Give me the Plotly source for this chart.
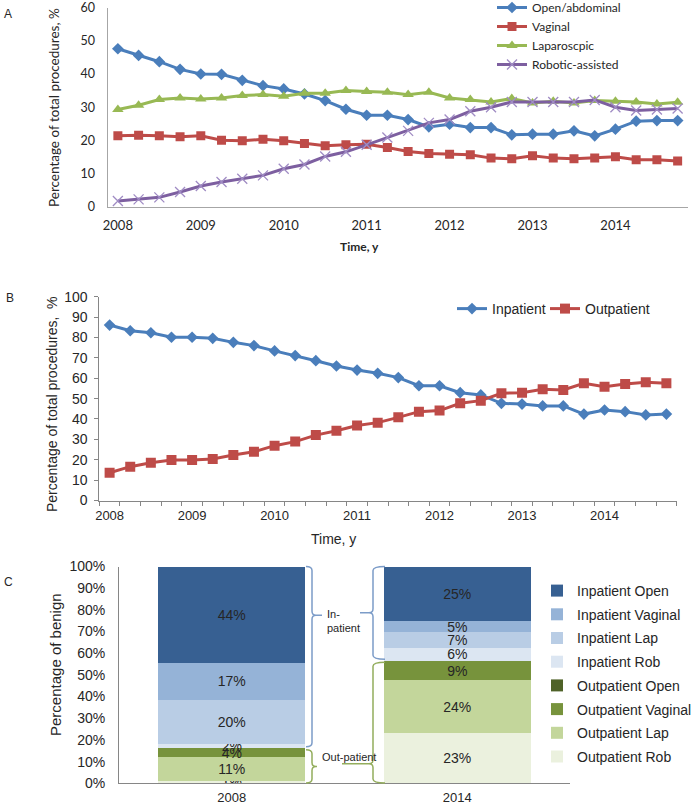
import plotly.graph_objects as go

W, H = 692, 806

# ---- shared x categories (quarters 2008 Q1 .. 2014 Q4) ----
year_labels = ["2008", "2009", "2010", "2011", "2012", "2013", "2014"]
n_quarters = 28

# ---- panel A: approach, % of total procedures ----
open_abd = [47.6, 45.6, 43.7, 41.4, 40.0, 39.9, 38.1, 36.5, 35.5, 34.0, 32.0, 29.4, 27.6, 27.6,
            26.3, 24.1, 24.9, 23.9, 23.9, 21.7, 21.9, 21.9, 22.9, 21.4, 23.4, 25.8, 26.0, 26.0]
vaginal = [21.4, 21.6, 21.4, 21.1, 21.4, 20.1, 19.9, 20.4, 19.9, 19.1, 18.4, 18.7, 18.9, 17.9,
           16.7, 16.1, 15.9, 15.7, 14.7, 14.5, 15.4, 14.7, 14.5, 14.7, 15.1, 14.2, 14.2, 13.8]
laparoscopic = [29.3, 30.6, 32.3, 32.8, 32.5, 32.8, 33.5, 33.8, 33.3, 34.2, 34.2, 35.0, 34.7, 34.5,
                33.8, 34.5, 32.8, 32.3, 31.6, 32.6, 31.3, 31.8, 31.3, 32.0, 31.8, 31.6, 31.0, 31.5]
robotic = [1.8, 2.3, 2.9, 4.5, 6.3, 7.5, 8.5, 9.5, 11.5, 12.8, 15.2, 16.6, 18.7, 20.9,
           22.9, 25.3, 26.3, 28.8, 30.0, 31.6, 31.6, 31.6, 31.6, 32.2, 30.0, 29.0, 29.3, 29.6]

# ---- panel B: setting, % of total procedures ----
inpatient = [86.1, 83.3, 82.3, 80.1, 80.1, 79.6, 77.6, 76.0, 73.4, 71.1, 68.6, 66.0, 64.0, 62.4,
             60.3, 56.3, 56.3, 52.9, 51.8, 47.7, 47.3, 46.4, 46.4, 42.4, 44.4, 43.6, 42.0, 42.4]
outpatient = [13.6, 16.6, 18.5, 19.9, 19.9, 20.4, 22.3, 23.9, 26.9, 28.9, 32.1, 34.2, 36.8, 38.2,
              40.8, 43.6, 44.1, 47.7, 49.0, 52.6, 52.9, 54.6, 54.2, 57.5, 55.8, 57.2, 58.0, 57.5]

# ---- panel C: share of benign, 2008 vs 2014 ----
bar_years = ["2008", "2014"]
inpatient_open = [44, 25]
inpatient_vaginal = [17, 5]
inpatient_lap = [20, 7]
inpatient_rob = [2, 6]
outpatient_open = [0, 0]
outpatient_vaginal = [4, 9]
outpatient_lap = [11, 24]
outpatient_rob = [1, 23]


def px_x(px):
    return px / W


def px_y(py):
    return 1 - py / H


fig = go.Figure()

# ---------- A ----------
A_FONT = "Lato, Open Sans, sans-serif"
line_specs = [
    ("Open/abdominal", open_abd, "#4A7EBB", dict(symbol="diamond", size=9)),
    ("Vaginal", vaginal, "#BE4B48", dict(symbol="square", size=9)),
    ("Laparoscpic", laparoscopic, "#98B954", dict(symbol="triangle-up", size=10)),
    ("Robotic-assisted", robotic, "#7D5FA0", dict(symbol="x-thin", size=10,
                                                  line=dict(width=1.3, color="#A08CC4"))),
]
for name, vals, color, mk in line_specs:
    mk = dict(mk)
    mk.setdefault("color", color)
    fig.add_trace(go.Scatter(
        x=list(range(len(vals))), y=vals, name=name, mode="lines+markers",
        line=dict(color=color, width=3), marker=mk,
        xaxis="x", yaxis="y", legend="legend"))

# ---------- B ----------
fig.add_trace(go.Scatter(
    x=list(range(len(inpatient))), y=inpatient, name="Inpatient", mode="lines+markers",
    line=dict(color="#4A7EBB", width=3), marker=dict(symbol="diamond", size=9, color="#4A7EBB"),
    xaxis="x2", yaxis="y2", legend="legend2"))
fig.add_trace(go.Scatter(
    x=list(range(len(outpatient))), y=outpatient, name="Outpatient", mode="lines+markers",
    line=dict(color="#BE4B48", width=3), marker=dict(symbol="square", size=10, color="#BE4B48"),
    xaxis="x2", yaxis="y2", legend="legend4"))

# ---------- C ----------
stack = [  # bottom to top
    ("Outpatient Rob", outpatient_rob, "#EBF1DE"),
    ("Outpatient Lap", outpatient_lap, "#C3D69B"),
    ("Outpatient Vaginal", outpatient_vaginal, "#77933C"),
    ("Outpatient Open", outpatient_open, "#4F6228"),
    ("Inpatient Rob", inpatient_rob, "#DCE6F2"),
    ("Inpatient Lap", inpatient_lap, "#B9CDE5"),
    ("Inpatient Vaginal", inpatient_vaginal, "#95B3D7"),
    ("Inpatient Open", inpatient_open, "#376092"),
]
for i, (name, vals, color) in enumerate(stack):
    fig.add_trace(go.Bar(
        x=[0, 1], y=vals, name=name, marker=dict(color=color, line=dict(width=0)),
        text=[f"{v}%" if v else "" for v in vals], textposition="inside",
        insidetextanchor="middle", textfont=dict(family="Liberation Sans, Arial", size=14, color="#262626"),
        width=0.65, xaxis="x3", yaxis="y3", legend="legend3", legendgroup=name,
        legendrank=len(stack) - i))

axis_common = dict(showgrid=False, zeroline=False, showline=True, automargin=False)

fig.update_layout(
    width=W, height=H, margin=dict(l=0, r=0, t=0, b=0, autoexpand=False),
    paper_bgcolor="white", plot_bgcolor="white",
    font=dict(family="Liberation Sans, Arial", size=13, color="#262626"),
    barmode="stack", barnorm="percent",
    uniformtext=dict(mode="show", minsize=14),
    xaxis=dict(**axis_common, domain=[px_x(107.5), px_x(688)], range=[-0.5, n_quarters - 0.5],
               linecolor="#A6A6A6", ticks="", tickvals=list(range(0, n_quarters, 4)),
               ticktext=year_labels, ticklabelstandoff=6,
               tickfont=dict(family=A_FONT, size=13, color="#262626"), anchor="y"),
    yaxis=dict(**axis_common, domain=[px_y(207), px_y(7.5)], range=[0, 60], dtick=10,
               linecolor="#A6A6A6", ticks="", ticklabelstandoff=9, ticklabeloverflow="allow",
               tickfont=dict(family=A_FONT, size=12.5, color="#262626"), anchor="x"),
    xaxis2=dict(**axis_common, domain=[px_x(99.3), px_x(676.7)], range=[-0.5, n_quarters - 0.5],
                linecolor="#868686", ticks="", tickvals=list(range(0, n_quarters, 4)),
                ticktext=year_labels, ticklabelstandoff=3, tickfont=dict(size=13),
                minor=dict(tickvals=[i - 0.5 for i in range(n_quarters + 1)], ticks="outside",
                           ticklen=4, tickcolor="#868686"),
                anchor="y2"),
    yaxis2=dict(**axis_common, domain=[px_y(500.5), px_y(296.7)], range=[0, 100], dtick=10,
                linecolor="#868686", ticks="outside", ticklen=4, tickcolor="#868686",
                ticklabelstandoff=4, tickfont=dict(size=14), anchor="x2"),
    xaxis3=dict(**axis_common, domain=[px_x(119), px_x(570)], range=[-0.5, 1.5],
                linecolor="#868686", ticks="", tickvals=[0, 1], ticktext=bar_years,
                ticklabelstandoff=2, tickfont=dict(size=13), anchor="y3"),
    yaxis3=dict(**axis_common, domain=[px_y(783.3), px_y(566.5)], range=[0, 100], dtick=10,
                ticksuffix="%", linecolor="#868686", ticks="", ticklabelstandoff=10,
                tickfont=dict(size=14), anchor="x3"),
    legend=dict(x=px_x(492), y=px_y(-7), xanchor="left", yanchor="top", bgcolor="rgba(0,0,0,0)",
                font=dict(family=A_FONT, size=12, color="#262626")),
    legend2=dict(x=px_x(452), y=px_y(309), xanchor="left", yanchor="middle", orientation="h",
                 bgcolor="rgba(0,0,0,0)", font=dict(size=14, color="#262626")),
    legend4=dict(x=px_x(545), y=px_y(309), xanchor="left", yanchor="middle", orientation="h",
                 bgcolor="rgba(0,0,0,0)", font=dict(size=14, color="#262626")),
    legend3=dict(x=px_x(537), y=px_y(575), xanchor="left", yanchor="top", traceorder="grouped",
                 tracegroupgap=2.5, bgcolor="rgba(0,0,0,0)", font=dict(size=14, color="#262626")),
)

# axis titles and panel letters
notes = [
    dict(text="A", x=8, y=14, font=dict(size=12)),
    dict(text="B", x=10, y=298, font=dict(size=12)),
    dict(text="C", x=8, y=582, font=dict(size=12)),
    dict(text="Percentage of total procedures, %", x=54, y=108, textangle=-90,
         font=dict(family=A_FONT, size=13.5)),
    dict(text="<b>Time, y</b>", x=359, y=246, font=dict(family=A_FONT, size=12)),
    dict(text="Percentage of total procedures,  %", x=52, y=404, textangle=-90, font=dict(size=14)),
    dict(text="Time, y", x=333, y=539, font=dict(size=14)),
    dict(text="Percentage of benign", x=55, y=665, textangle=-90, font=dict(size=15)),
]
for n in notes:
    fig.add_annotation(text=n["text"], x=px_x(n["x"]), y=px_y(n["y"]), xref="paper", yref="paper",
                       showarrow=False, textangle=n.get("textangle", 0), font=n["font"],
                       xanchor="center", yanchor="middle")


# ---- braces in panel C (vertical extents from the stacked shares) ----
def c_y(v):
    return 783.3 - v * (783.3 - 566.5) / 100


def brace_path(xe, xs, xt, yt, yb, ym, r=4):
    d = 1 if xt > xs else -1
    pts = [
        ("M", [(xe, yt)]),
        ("Q", [(xs, yt), (xs, yt + r)]),
        ("L", [(xs, ym - r)]),
        ("Q", [(xs, ym), (xs + d * r, ym)]),
        ("L", [(xt, ym)]),
        ("M", [(xs + d * r, ym)]),
        ("Q", [(xs, ym), (xs, ym + r)]),
        ("L", [(xs, yb - r)]),
        ("Q", [(xs, yb), (xe, yb)]),
    ]
    out = []
    for cmd, coords in pts:
        out.append(cmd + " ".join(f"{px_x(x):.5f},{px_y(y):.5f}" for x, y in coords))
    return " ".join(out)


def out_share(i):
    tot = sum(s[1][i] for s in stack)
    outs = outpatient_open[i] + outpatient_vaginal[i] + outpatient_lap[i] + outpatient_rob[i]
    return outs / tot * 100


IN_COL, OUT_COL = "#7C9CC8", "#93AD5C"
o08, o14 = c_y(out_share(0)), c_y(out_share(1))
top = c_y(100)
braces = [
    (306, 312, 322, top, o08 - 1.5, top + 0.27 * (o08 - 1.5 - top), IN_COL),
    (306, 312, 317, o08 + 1.5, 783, (o08 + 1.5 + 783) / 2, OUT_COL),
    (385, 373, 360, top, o14 - 1.5, (top + o14 - 1.5) / 2, IN_COL),
    (385, 373, 342, o14 + 1.5, 783, o14 + 1.5 + 0.84 * (783 - o14 - 1.5), OUT_COL),
]
for xe, xs, xt, yt, yb, ym, col in braces:
    fig.add_shape(type="path", path=brace_path(xe, xs, xt, yt, yb, ym), xref="paper", yref="paper",
                  line=dict(color=col, width=1.5))

fig.add_annotation(text="In-<br>patient", x=px_x(325), y=px_y(621), xref="paper", yref="paper",
                   showarrow=False, xanchor="left", yanchor="middle", align="left",
                   font=dict(size=11, color="#262626"))
fig.add_annotation(text="Out-patient", x=px_x(320), y=px_y(757), xref="paper", yref="paper",
                   showarrow=False, xanchor="left", yanchor="middle",
                   font=dict(size=11, color="#262626"))

# page body has a default 8px margin; drop it so the figure sits at the window origin
fig.write_html("out.html", config={"displayModeBar": False},
               post_script="document.body.style.margin='0';")
